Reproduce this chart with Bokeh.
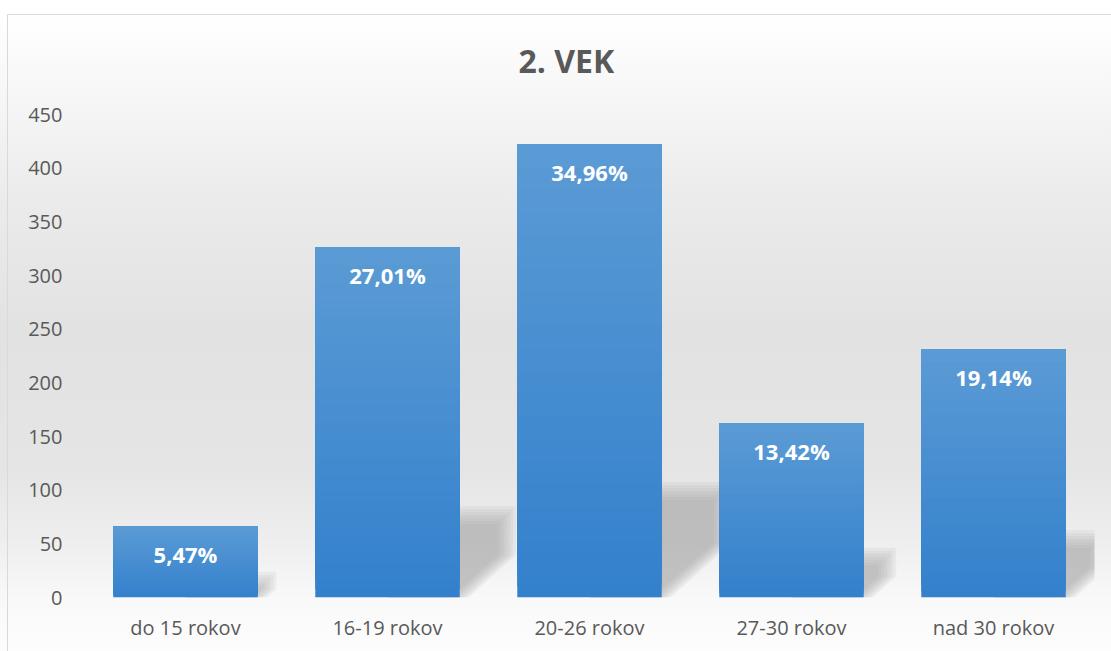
from bokeh.plotting import figure
from bokeh.models import FixedTicker, Range1d, ColumnDataSource
from bokeh.embed import file_html
from bokeh.resources import INLINE
from bokeh.core.properties import value

# ---- data ----
categories = ["do 15 rokov", "16-19 rokov", "20-26 rokov", "27-30 rokov", "nad 30 rokov"]
counts = [66, 326, 422, 162, 231]
percent_labels = ["5,47%", "27,01%", "34,96%", "13,42%", "19,14%"]
y_ticks = [0, 50, 100, 150, 200, 250, 300, 350, 400, 450]
title_text = "2. VEK"

# ---- layout ----
W, H = 1111, 651
FRAME_L, FRAME_R, FRAME_T, FRAME_B = 84, 1094, 114, 597
BAR_W = 0.715
FONT = "Open Sans"
TXT = "#595959"

xs = list(range(1, len(categories) + 1))
px_per_x = (FRAME_R - FRAME_L) / len(categories)
px_per_y = (FRAME_B - FRAME_T) / (y_ticks[-1] - y_ticks[0])

p = figure(width=W, height=H, output_backend="svg", toolbar_location=None,
           x_range=Range1d(0.5, len(categories) + 0.5),
           y_range=Range1d(y_ticks[0], y_ticks[-1]),
           min_border_left=FRAME_L, min_border_right=W - FRAME_R,
           min_border_top=FRAME_T, min_border_bottom=H - FRAME_B)
p.background_fill_color = None
p.border_fill_color = None
p.outline_line_color = None
p.styles = {"background":
            "linear-gradient(#d9d9d9, #d9d9d9) 7px 14px / 1px 100% no-repeat, "
            "linear-gradient(#d9d9d9, #d9d9d9) 7px 14px / 100% 1px no-repeat, "
            "linear-gradient(to bottom, #ffffff 0px, #ffffff 14px, #f6f6f6 100px, "
            "#ebebeb 200px, #e2e2e2 330px, #e5e5e5 470px, #eeeeee 540px, "
            "#f9f9f9 600px, #fdfdfd 651px)"}

# ---- shadows (derived from values) ----
layers = [9, 6, 3, 0, -3, -6, -9]
for e in layers:
    pxs, pys = [], []
    for x, v in zip(xs, counts):
        hpx = v * px_per_y
        hs = 0.235 * v
        wpx = 0.135 * hpx
        kk = 0.9 * wpx / px_per_y
        xr = x + BAR_W / 2
        ex = e / px_per_x
        ey = e / px_per_y
        dx = wpx / px_per_x
        pxs.append([xr + ex, xr + dx + ex, xr + dx + ex, x, x])
        pys.append([0, kk, hs + ey, hs + ey, 0])
    p.patches(pxs, pys, fill_color="#9a9a9a", fill_alpha=0.11, line_color=None)

# ---- gradient bars ----
N = 40
top_c = (91, 155, 213)
bot_c = (51, 128, 204)
for i in range(N):
    t = (i + 0.5) / N
    col = "#%02x%02x%02x" % tuple(int(round(b + (a - b) * t)) for a, b in zip(top_c, bot_c))
    p.vbar(x=xs, width=BAR_W, bottom=[v * i / N for v in counts], top=counts,
           fill_color=col, line_color=None)

# ---- data labels ----
src = ColumnDataSource(dict(x=xs, y=counts, t=percent_labels))
p.text(x="x", y="y", text="t", source=src, y_offset=27,
       text_color="white", text_font=value(FONT), text_font_style="bold",
       text_font_size="22px", text_align="center", text_baseline="middle")

# ---- axes ----
p.grid.visible = False
p.yaxis.ticker = FixedTicker(ticks=y_ticks)
p.xaxis.ticker = FixedTicker(ticks=xs)
p.xaxis.major_label_overrides = {x: c for x, c in zip(xs, categories)}
for ax in (p.xaxis[0], p.yaxis[0]):
    ax.axis_line_color = None
    ax.major_tick_line_color = None
    ax.minor_tick_line_color = None
    ax.major_tick_out = 0
    ax.major_tick_in = 0
    ax.minor_tick_out = 0
    ax.major_label_text_font = FONT
    ax.major_label_text_font_size = "20px"
    ax.major_label_text_color = TXT
p.yaxis.major_label_standoff = 22
p.xaxis.major_label_standoff = 16

# ---- title ----
p.title.text = title_text
p.title.text_font = FONT
p.title.text_font_style = "bold"
p.title.text_font_size = "32px"
p.title.text_color = TXT
p.title.align = "left"
p.title.offset = 434
p.title.standoff = 65

open("out.html", "w").write(file_html(p, INLINE))
